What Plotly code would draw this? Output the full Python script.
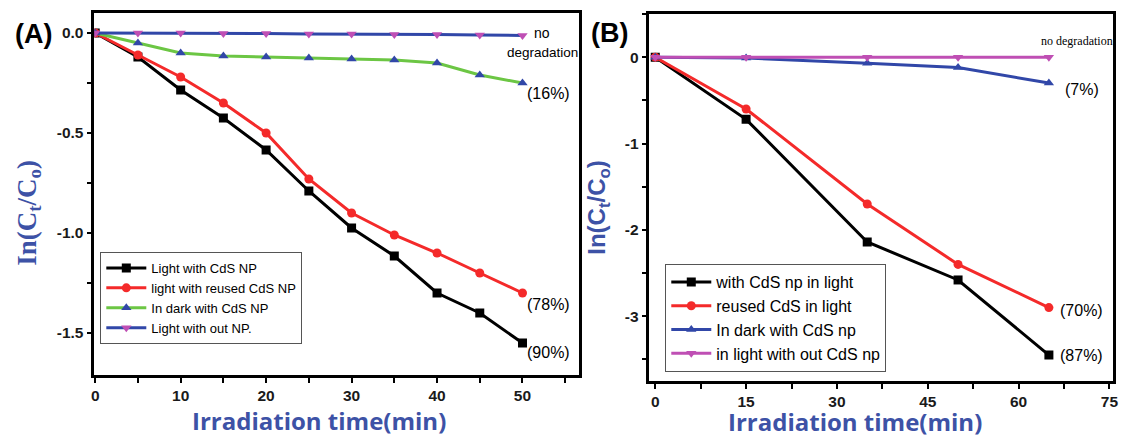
import plotly.graph_objects as go

# ---------------- data ----------------
time_a = [0, 5, 10, 15, 20, 25, 30, 35, 40, 45, 50]
a_light_cds = [0, -0.12, -0.285, -0.425, -0.585, -0.79, -0.975, -1.115, -1.30, -1.40, -1.55]
a_light_reused = [0, -0.11, -0.22, -0.35, -0.50, -0.73, -0.90, -1.01, -1.10, -1.20, -1.30]
a_dark_cds = [0, -0.05, -0.10, -0.115, -0.12, -0.125, -0.13, -0.135, -0.15, -0.21, -0.25]
a_light_without = [0, 0, 0, -0.003, -0.003, -0.005, -0.005, -0.007, -0.008, -0.01, -0.012]
names_a = ["Light with CdS NP", "light with reused CdS NP", "In dark with CdS NP", "Light with out NP."]

time_b = [0, 15, 35, 50, 65]
b_light_cds = [0, -0.72, -2.14, -2.58, -3.45]
b_reused = [0, -0.60, -1.70, -2.40, -2.90]
b_dark_cds = [0, -0.01, -0.07, -0.12, -0.30]
b_light_without = [0, 0, 0, 0, 0]
names_b = ["with CdS np in light", "reused CdS in light", "In dark with CdS np", "in light with out CdS np"]

xticks_a = [0, 10, 20, 30, 40, 50]
yticks_a = [0.0, -0.5, -1.0, -1.5]
yticklabels_a = ["0.0", "-0.5", "-1.0", "-1.5"]
xticks_b = [0, 15, 30, 45, 60, 75]
yticks_b = [0, -1, -2, -3]
yticklabels_b = ["0", "-1", "-2", "-3"]

# ---------------- styles ----------------
BLACK = "#000000"
RED = "#f42a2a"
GREEN = "#6cc644"
BLUE = "#3147a8"
MAGENTA = "#bf4fb4"
TITLE_BLUE = "#3d52a6"
SANS = "Liberation Sans, Arial, sans-serif"
SERIF = "Liberation Serif, Times New Roman, serif"

W, H = 1131, 437


def px(x):
    return x / W


def py(y):
    return 1 - y / H


def bold(labels):
    return ["<b>%s</b>" % s for s in labels]


fig = go.Figure()


def add(x, y, name, lcol, mcol, sym, xa, ya, leg):
    fig.add_trace(go.Scatter(
        x=x, y=y, name=name, mode="lines+markers",
        line=dict(color=lcol, width=3),
        marker=dict(color=mcol, symbol=sym, size=9),
        xaxis=xa, yaxis=ya, legend=leg))


add(time_a, a_light_cds, names_a[0], BLACK, BLACK, "square", "x", "y", "legend")
add(time_a, a_light_reused, names_a[1], RED, RED, "circle", "x", "y", "legend")
add(time_a, a_dark_cds, names_a[2], GREEN, BLUE, "triangle-up", "x", "y", "legend")
add(time_a, a_light_without, names_a[3], BLUE, MAGENTA, "triangle-down", "x", "y", "legend")

add(time_b, b_light_cds, names_b[0], BLACK, BLACK, "square", "x2", "y2", "legend2")
add(time_b, b_reused, names_b[1], RED, RED, "circle", "x2", "y2", "legend2")
add(time_b, b_dark_cds, names_b[2], BLUE, BLUE, "triangle-up", "x2", "y2", "legend2")
add(time_b, b_light_without, names_b[3], MAGENTA, MAGENTA, "triangle-down", "x2", "y2", "legend2")

axis_common = dict(
    showline=True, linecolor="black", linewidth=2.5, mirror=True,
    ticks="outside", ticklen=5, tickwidth=2, tickcolor="black",
    showgrid=False, zeroline=False,
    tickfont=dict(family=SANS, size=15.5, color="#1a1a1a"),
)


def minor(d):
    return dict(dtick=d, ticks="outside", ticklen=5, tickwidth=2, tickcolor="black")


fig.update_layout(
    width=W, height=H,
    margin=dict(l=0, r=0, t=0, b=0),
    paper_bgcolor="white", plot_bgcolor="white",
    showlegend=True,
    xaxis=dict(domain=[px(92), px(580)], range=[-0.1, 56.6],
               tickmode="array", tickvals=xticks_a, ticktext=bold([str(v) for v in xticks_a]),
               minor=minor(5), anchor="y", **axis_common),
    yaxis=dict(domain=[py(375), py(13)], range=[-1.71, 0.1],
               tickmode="array", tickvals=yticks_a, ticktext=bold(yticklabels_a),
               minor=minor(0.25), anchor="x", **axis_common),
    xaxis2=dict(domain=[px(651), px(1118)], range=[-0.97, 75.6],
                tickmode="array", tickvals=xticks_b, ticktext=bold([str(v) for v in xticks_b]),
                minor=minor(7.5), anchor="y2", **axis_common),
    yaxis2=dict(domain=[py(381), py(14)], range=[-3.75, 0.5],
                tickmode="array", tickvals=yticks_b, ticktext=bold(yticklabels_b),
                minor=minor(0.5), anchor="x2", **axis_common),
    legend=dict(x=px(98), y=py(252), xanchor="left", yanchor="top",
                bgcolor="white", bordercolor="#555555", borderwidth=1,
                font=dict(family=SANS, size=13, color="black"), tracegroupgap=0,
                itemwidth=40),
    legend2=dict(x=px(667), y=py(264), xanchor="left", yanchor="top",
                 bgcolor="white", bordercolor="#555555", borderwidth=1,
                 font=dict(family=SANS, size=16, color="black"), tracegroupgap=0,
                 itemwidth=40),
)

ann = []


def text(x, y, t, size, family=SANS, color="black", bold=False, angle=0, xanchor="center"):
    ann.append(dict(x=px(x), y=py(y), xref="paper", yref="paper", text=t, showarrow=False,
                    xanchor=xanchor, yanchor="middle", textangle=angle,
                    font=dict(family=family, size=size, color=color,
                              weight="bold" if bold else "normal")))


# panel labels
text(31, 34, "(A)", 27, bold=True)
text(611, 33, "(B)", 27, bold=True)

# axis titles
text(318, 420, "Irradiation time(min)", 24, family="Open Sans, sans-serif", color=TITLE_BLUE, bold=True)
text(858, 421, "Irradiation time(min)", 24, family="Open Sans, sans-serif", color=TITLE_BLUE, bold=True)
text(26, 213, "In(C<sub>t</sub>/C<sub>o</sub>)", 27, family=SERIF,
     color=TITLE_BLUE, bold=True, angle=-90)
text(600, 207, "In(C<sub>t</sub>/C<sub>o</sub>)", 24, family=SANS, color=TITLE_BLUE, bold=True, angle=-90)

# panel A notes
text(543, 33, "no", 14)
text(543, 52, "degradation", 13.5)
text(549, 94, "(16%)", 16)
text(549, 304, "(78%)", 16)
text(549, 352, "(90%)", 16)

# panel B notes
text(1082, 41, "no degradation", 12, family=SERIF)
text(1087, 89, "(7%)", 16)
text(1086, 310, "(70%)", 16)
text(1086, 355, "(87%)", 16)

fig.update_layout(annotations=ann)

fig.write_html("out.html")
